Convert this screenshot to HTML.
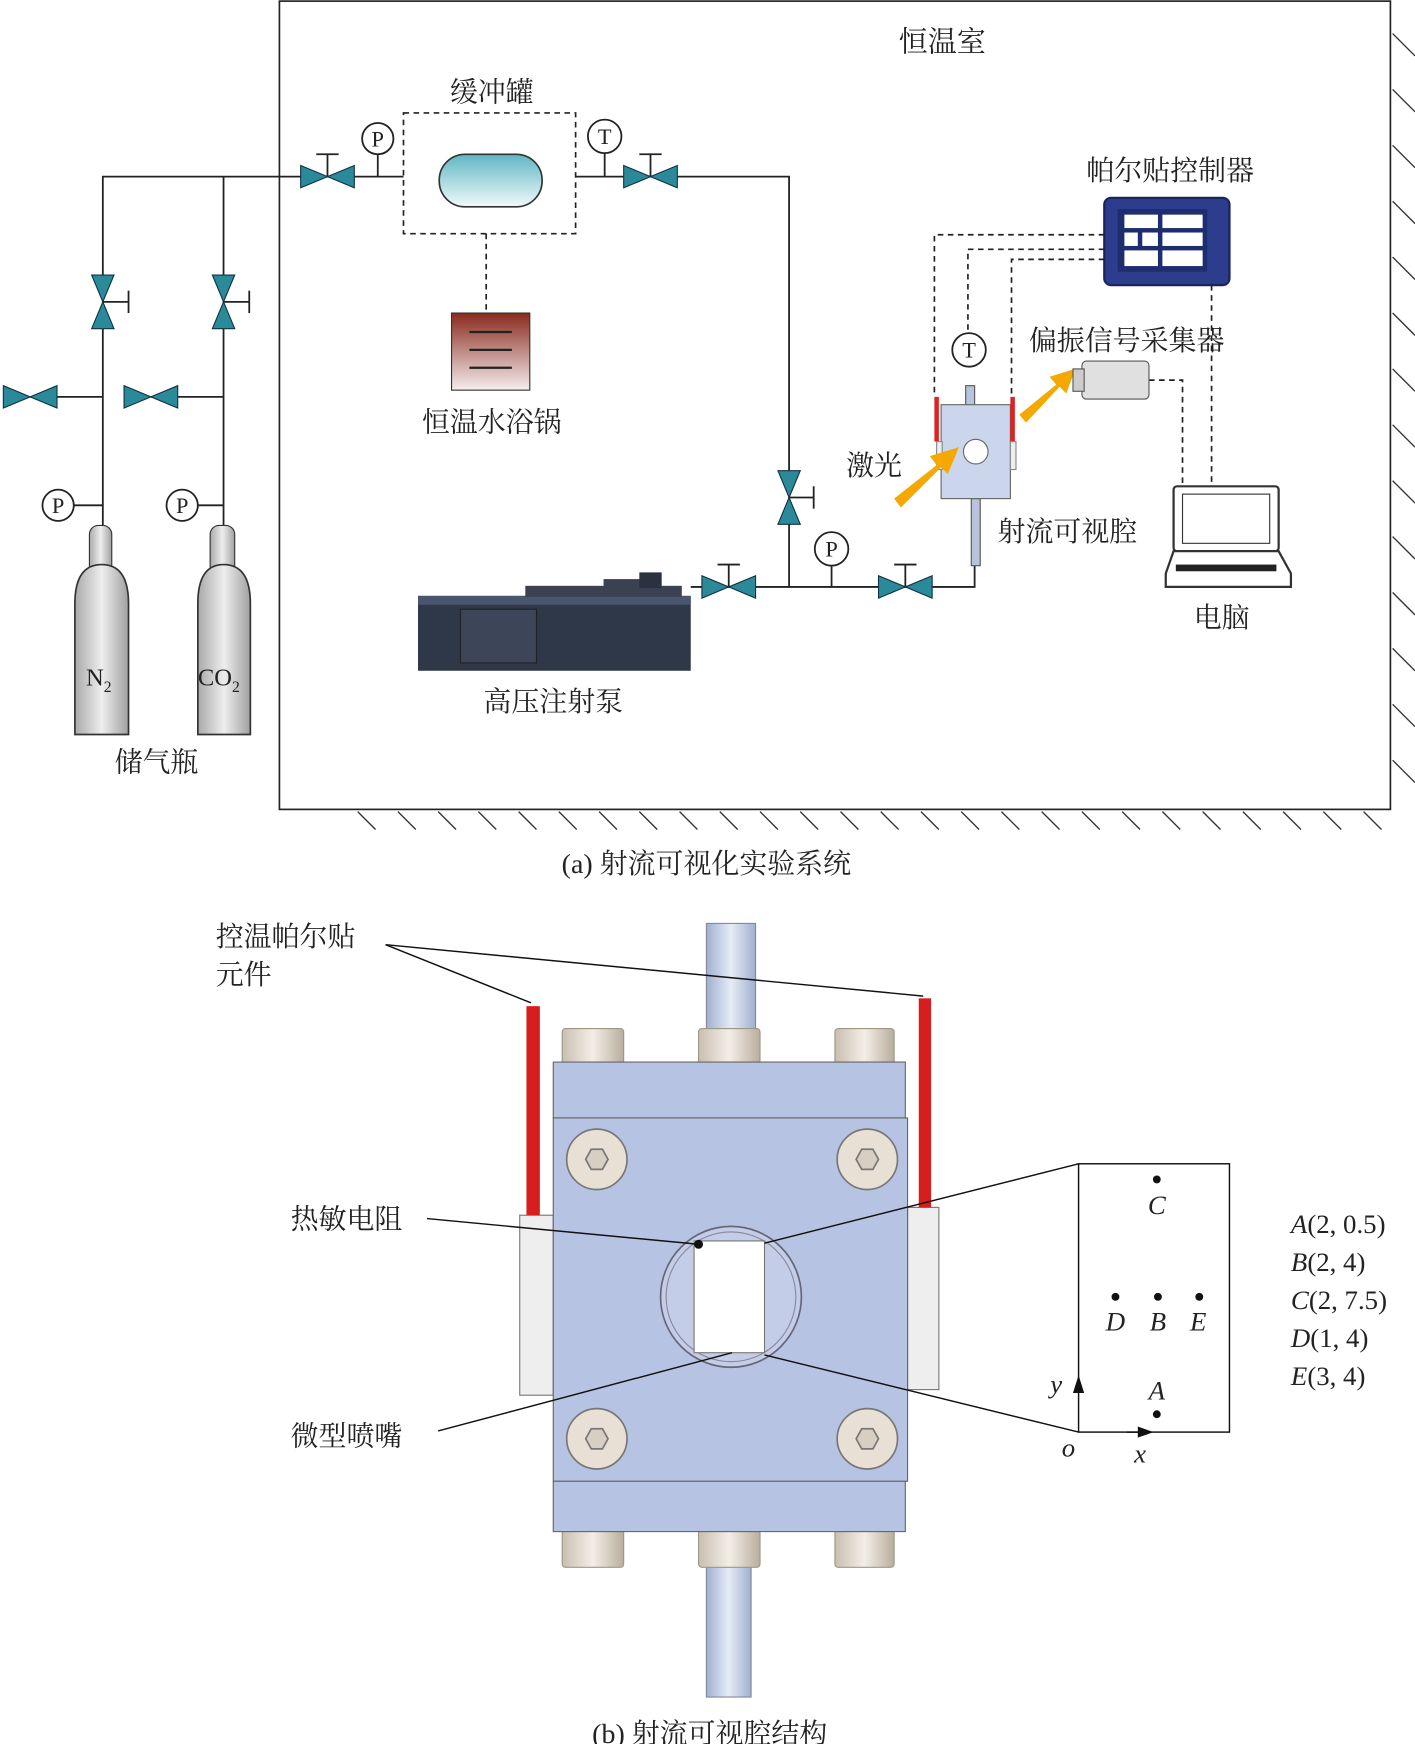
<!DOCTYPE html>
<html><head><meta charset="utf-8"><style>
html,body{margin:0;padding:0;background:#fff}
svg{display:block}
text{font-family:"Liberation Serif","Noto Serif CJK SC",serif;fill:#222}
</style></head><body>
<svg width="1415" height="1744" viewBox="0 0 1266 1560" preserveAspectRatio="none" xmlns="http://www.w3.org/2000/svg">
<defs>
<linearGradient id="tank" x1="0" y1="0" x2="0" y2="1"><stop offset="0" stop-color="#5fb6c3"/><stop offset="1" stop-color="#f0fafb"/></linearGradient>
<linearGradient id="bath" x1="0" y1="0" x2="0" y2="1"><stop offset="0" stop-color="#8a2a1e"/><stop offset="1" stop-color="#f4eeee"/></linearGradient>
<linearGradient id="cyl" x1="0" y1="0" x2="1" y2="0"><stop offset="0" stop-color="#a9a9a9"/><stop offset="0.5" stop-color="#eee"/><stop offset="1" stop-color="#a0a0a0"/></linearGradient>
<linearGradient id="tube" x1="0" y1="0" x2="1" y2="0"><stop offset="0" stop-color="#9fb0cf"/><stop offset="0.5" stop-color="#e6ecf6"/><stop offset="1" stop-color="#9fb0cf"/></linearGradient>
<linearGradient id="bolt" x1="0" y1="0" x2="1" y2="0"><stop offset="0" stop-color="#c9bfb0"/><stop offset="0.5" stop-color="#f3eee6"/><stop offset="1" stop-color="#b9ae9e"/></linearGradient>
<g id="vh"><polygon points="-24,-10 0,0 -24,10" fill="#2a8a9a" stroke="#134" stroke-width="1"/><polygon points="24,-10 0,0 24,10" fill="#2a8a9a" stroke="#134" stroke-width="1"/></g>
<g id="vv"><polygon points="-10,-24 0,0 10,-24" fill="#2a8a9a" stroke="#134" stroke-width="1"/><polygon points="-10,24 0,0 10,24" fill="#2a8a9a" stroke="#134" stroke-width="1"/></g>
</defs>
<g fill="none" stroke="#222" stroke-width="1.5">
<rect x="250" y="1" width="994" height="723"/>
</g>
<!-- hatching -->
<g stroke="#333" stroke-width="1.2">
<line x1="1246" y1="30" x2="1266" y2="50"/><line x1="1246" y1="80" x2="1266" y2="100"/><line x1="1246" y1="130" x2="1266" y2="150"/><line x1="1246" y1="180" x2="1266" y2="200"/><line x1="1246" y1="230" x2="1266" y2="250"/><line x1="1246" y1="280" x2="1266" y2="300"/><line x1="1246" y1="330" x2="1266" y2="350"/><line x1="1246" y1="380" x2="1266" y2="400"/><line x1="1246" y1="430" x2="1266" y2="450"/><line x1="1246" y1="480" x2="1266" y2="500"/><line x1="1246" y1="530" x2="1266" y2="550"/><line x1="1246" y1="580" x2="1266" y2="600"/><line x1="1246" y1="630" x2="1266" y2="650"/><line x1="1246" y1="680" x2="1266" y2="700"/>
</g>
<g stroke="#333" stroke-width="1.2" id="bh"></g>
<script>
var g=document.getElementById('bh');for(var x=320;x<=1230;x+=36){var l=document.createElementNS('http://www.w3.org/2000/svg','line');l.setAttribute('x1',x);l.setAttribute('y1',726);l.setAttribute('x2',x+16);l.setAttribute('y2',742);g.appendChild(l);}
</script>
<text x="843" y="46" font-size="26" text-anchor="middle">恒温室</text>
<!-- pipes -->
<g fill="none" stroke="#222" stroke-width="1.6">
<polyline points="92,470 92,158 361,158"/>
<polyline points="200,470 200,158"/>
<polyline points="515,158 706,158 706,525"/>
<polyline points="618,525 872,525 872,480"/>
<line x1="27" y1="355" x2="92" y2="355"/><line x1="135" y1="355" x2="200" y2="355"/>
<line x1="66" y1="452" x2="92" y2="452"/><line x1="177" y1="452" x2="200" y2="452"/>
<line x1="293" y1="158" x2="293" y2="138"/><line x1="283" y1="138" x2="303" y2="138"/>
<line x1="582" y1="158" x2="582" y2="138"/><line x1="572" y1="138" x2="592" y2="138"/>
<line x1="652" y1="525" x2="652" y2="505"/><line x1="642" y1="505" x2="662" y2="505"/>
<line x1="810" y1="525" x2="810" y2="505"/><line x1="800" y1="505" x2="820" y2="505"/>
<line x1="92" y1="270" x2="115" y2="270"/><line x1="115" y1="260" x2="115" y2="280"/>
<line x1="200" y1="270" x2="223" y2="270"/><line x1="223" y1="260" x2="223" y2="280"/>
<line x1="706" y1="445" x2="728" y2="445"/><line x1="728" y1="435" x2="728" y2="455"/>
<line x1="338" y1="138" x2="338" y2="158"/><line x1="541" y1="137" x2="541" y2="158"/>
<line x1="744" y1="506" x2="744" y2="525"/>
</g>
<use href="#vv" x="92" y="270"/><use href="#vv" x="200" y="270"/>
<use href="#vh" x="27" y="355"/><use href="#vh" x="135" y="355"/>
<use href="#vh" x="293" y="158"/><use href="#vh" x="582" y="158"/>
<use href="#vv" x="706" y="445"/>
<use href="#vh" x="652" y="525"/><use href="#vh" x="810" y="525"/>
<!-- gauges -->
<g fill="#fff" stroke="#222" stroke-width="1.6">
<circle cx="52" cy="452" r="14"/><circle cx="163" cy="452" r="14"/>
<circle cx="338" cy="124" r="14"/><circle cx="541" cy="122" r="15"/>
<circle cx="744" cy="491" r="15"/><circle cx="867" cy="313" r="15"/>
</g>
<g font-size="20" text-anchor="middle">
<text x="52" y="459">P</text><text x="163" y="459">P</text><text x="338" y="131">P</text><text x="541" y="129">T</text><text x="744" y="498">P</text><text x="867" y="320">T</text>
</g>
<!-- cylinders -->
<rect x="80" y="470" width="20" height="45" rx="8" fill="url(#cyl)" stroke="#333"/>
<rect x="188" y="470" width="22" height="45" rx="8" fill="url(#cyl)" stroke="#333"/>
<path d="M67,657 V540 Q67,505 91,505 Q115,505 115,540 V657 Z" fill="url(#cyl)" stroke="#333" stroke-width="1.5"/>
<path d="M177,657 V540 Q177,505 200,505 Q224,505 224,540 V657 Z" fill="url(#cyl)" stroke="#333" stroke-width="1.5"/>
<text x="77" y="613" font-size="22">N<tspan font-size="14" dy="6">2</tspan></text>
<text x="177" y="613" font-size="22">CO<tspan font-size="14" dy="6">2</tspan></text>
<text x="140" y="690" font-size="25" text-anchor="middle">储气瓶</text>
<!-- buffer tank -->
<rect x="361" y="101" width="154" height="108" fill="none" stroke="#222" stroke-width="1.5" stroke-dasharray="5,4"/>
<rect x="393" y="138" width="92" height="47" rx="23" fill="url(#tank)" stroke="#333" stroke-width="1.5"/>
<text x="440" y="91" font-size="25" text-anchor="middle">缓冲罐</text>
<line x1="435" y1="209" x2="435" y2="280" stroke="#222" stroke-width="1.5" stroke-dasharray="5,4"/>
<rect x="404" y="280" width="70" height="69" fill="url(#bath)" stroke="#333"/>
<g stroke="#222" stroke-width="2"><line x1="420" y1="297" x2="458" y2="297"/><line x1="420" y1="313" x2="458" y2="313"/><line x1="420" y1="329" x2="458" y2="329"/></g>
<text x="440" y="386" font-size="25" text-anchor="middle">恒温水浴锅</text>
<!-- pump -->
<rect x="374" y="533" width="244" height="67" fill="#2f3848"/>
<rect x="374" y="533" width="244" height="8" fill="#4a5570"/>
<rect x="412" y="545" width="68" height="48" fill="#3c4658" stroke="#222"/>
<rect x="470" y="524" width="140" height="10" fill="#3a4252"/>
<rect x="540" y="518" width="50" height="8" fill="#3a4252"/>
<rect x="572" y="512" width="20" height="14" fill="#2a3240"/>
<text x="495" y="636" font-size="25" text-anchor="middle">高压注射泵</text>
<!-- controller -->
<text x="1047" y="161" font-size="25" text-anchor="middle">帕尔贴控制器</text>
<rect x="988" y="177" width="112" height="78" rx="6" fill="#2b3d8c" stroke="#1a2560" stroke-width="2"/>
<rect x="1000" y="187" width="80" height="56" fill="#1e2c70"/>
<g fill="#fff"><rect x="1006" y="192" width="30" height="12"/><rect x="1040" y="192" width="36" height="12"/><rect x="1006" y="208" width="12" height="12"/><rect x="1022" y="208" width="14" height="12"/><rect x="1040" y="208" width="36" height="12"/><rect x="1006" y="224" width="30" height="14"/><rect x="1040" y="224" width="36" height="14"/></g>
<g stroke="#222" stroke-width="1.5" stroke-dasharray="5,4" fill="none">
<polyline points="988,210 836,210 836,355"/>
<polyline points="988,223 866,223 866,297"/>
<polyline points="988,232 905,232 905,355"/>
<polyline points="1084,255 1084,435"/>
<polyline points="1028,340 1058,340 1058,435"/>
</g>
<!-- cavity -->
<rect x="864" y="345" width="8" height="20" fill="#b8c4dd" stroke="#555"/>
<rect x="869" y="446" width="8" height="60" fill="#b8c4dd" stroke="#555"/>
<rect x="842" y="362" width="62" height="84" fill="#cbd5ec" stroke="#666"/>
<circle cx="873" cy="404" r="11" fill="#fff" stroke="#666"/>
<rect x="836" y="355" width="4" height="40" fill="#d22"/><rect x="904" y="355" width="4" height="40" fill="#d22"/>
<rect x="838" y="395" width="5" height="25" fill="#eee" stroke="#888"/><rect x="904" y="395" width="5" height="25" fill="#eee" stroke="#888"/>
<text x="955" y="484" font-size="25" text-anchor="middle">射流可视腔</text>
<text x="782" y="425" font-size="25" text-anchor="middle">激光</text>
<!-- arrows -->
<g fill="#f5a800">
<polygon points="800,446 838,416 832,408 858,400 848,424 842,418 806,454"/>
<polygon points="912,371 945,344 939,337 962,330 954,352 948,346 918,378"/>
</g>
<!-- camera -->
<text x="1008" y="313" font-size="25" text-anchor="middle">偏振信号采集器</text>
<rect x="968" y="323" width="60" height="34" rx="4" fill="#e0e0e0" stroke="#555"/>
<rect x="960" y="330" width="10" height="20" fill="#ccc" stroke="#555"/>
<!-- computer -->
<rect x="1050" y="435" width="94" height="58" rx="3" fill="#fff" stroke="#333" stroke-width="2"/>
<rect x="1058" y="442" width="78" height="44" fill="#fff" stroke="#333"/>
<path d="M1050,493 L1043,513 V525 H1155 V513 L1144,493 Z" fill="#fff" stroke="#333" stroke-width="2"/>
<rect x="1052" y="505" width="90" height="6" fill="#222"/>
<text x="1093" y="561" font-size="25" text-anchor="middle">电脑</text>
<text x="632" y="781" font-size="25" text-anchor="middle">(a) 射流可视化实验系统</text>

<!-- part b -->
<rect x="632" y="826" width="44" height="124" fill="url(#tube)" stroke="#889"/>
<rect x="632" y="1395" width="40" height="123" fill="url(#tube)" stroke="#889"/>
<g fill="url(#bolt)" stroke="#998">
<rect x="503" y="920" width="55" height="32" rx="3"/><rect x="625" y="920" width="55" height="32" rx="3"/><rect x="747" y="920" width="53" height="32" rx="3"/>
<rect x="503" y="1368" width="55" height="34" rx="3"/><rect x="625" y="1368" width="55" height="34" rx="3"/><rect x="747" y="1368" width="53" height="34" rx="3"/>
</g>
<rect x="465" y="1087" width="30" height="161" fill="#eee" stroke="#777"/>
<rect x="812" y="1080" width="28" height="163" fill="#eee" stroke="#777"/>
<rect x="495" y="950" width="315" height="50" fill="#b7c3e2" stroke="#666"/>
<rect x="495" y="1000" width="317" height="325" fill="#b7c3e2" stroke="#666"/>
<rect x="495" y="1325" width="315" height="45" fill="#b7c3e2" stroke="#666"/>
<rect x="471" y="900" width="12" height="187" fill="#d61e1e"/>
<rect x="822" y="893" width="11" height="187" fill="#d61e1e"/>
<g stroke="#777" stroke-width="1.5">
<circle cx="534" cy="1037" r="27" fill="#e8e0d4"/><circle cx="776" cy="1037" r="27" fill="#e8e0d4"/>
<circle cx="534" cy="1287" r="27" fill="#e8e0d4"/><circle cx="776" cy="1287" r="27" fill="#e8e0d4"/>
<polygon points="524,1037 529,1028 539,1028 544,1037 539,1046 529,1046" fill="#d7cfc2"/>
<polygon points="766,1037 771,1028 781,1028 786,1037 781,1046 771,1046" fill="#d7cfc2"/>
<polygon points="524,1287 529,1278 539,1278 544,1287 539,1296 529,1296" fill="#d7cfc2"/>
<polygon points="766,1287 771,1278 781,1278 786,1287 781,1296 771,1296" fill="#d7cfc2"/>
</g>
<circle cx="654" cy="1160" r="63" fill="#c3cde8" stroke="#667" stroke-width="1.5"/>
<circle cx="654" cy="1160" r="58" fill="none" stroke="#889"/>
<rect x="621" y="1110" width="63" height="100" fill="#fff" stroke="#777"/>
<circle cx="625" cy="1113" r="4" fill="#111"/>
<g stroke="#111" stroke-width="1.3" fill="none">
<line x1="345" y1="845" x2="475" y2="897"/><line x1="345" y1="845" x2="826" y2="891"/>
<line x1="382" y1="1090" x2="625" y2="1113"/>
<line x1="392" y1="1280" x2="655" y2="1210"/>
<line x1="684" y1="1112" x2="965" y2="1041"/><line x1="684" y1="1212" x2="965" y2="1281"/>
<rect x="965" y="1041" width="135" height="240"/>
</g>
<text x="193" y="846" font-size="25">控温帕尔贴</text>
<text x="193" y="880" font-size="25">元件</text>
<text x="260" y="1099" font-size="25">热敏电阻</text>
<text x="260" y="1293" font-size="25">微型喷嘴</text>
<g fill="#111"><circle cx="1035" cy="1055" r="3.5"/><circle cx="998" cy="1160" r="3.5"/><circle cx="1036" cy="1160" r="3.5"/><circle cx="1073" cy="1160" r="3.5"/><circle cx="1035" cy="1265" r="3.5"/></g>
<g font-size="24" font-style="italic" text-anchor="middle">
<text x="1035" y="1086">C</text><text x="998" y="1190">D</text><text x="1036" y="1190">B</text><text x="1072" y="1190">E</text><text x="1035" y="1252">A</text>
<text x="945" y="1246">y</text><text x="956" y="1303">o</text><text x="1020" y="1308">x</text>
</g>
<polygon points="965,1230 960,1246 970,1246" fill="#111"/>
<line x1="1008" y1="1281" x2="1026" y2="1281" stroke="#111" stroke-width="1.3"/>
<polygon points="1032,1281 1018,1276 1018,1286" fill="#111"/>
<g font-size="24">
<text x="1155" y="1103"><tspan font-style="italic">A</tspan>(2, 0.5)</text>
<text x="1155" y="1137"><tspan font-style="italic">B</tspan>(2, 4)</text>
<text x="1155" y="1171"><tspan font-style="italic">C</tspan>(2, 7.5)</text>
<text x="1155" y="1205"><tspan font-style="italic">D</tspan>(1, 4)</text>
<text x="1155" y="1239"><tspan font-style="italic">E</tspan>(3, 4)</text>
</g>
<text x="635" y="1559" font-size="25" text-anchor="middle">(b) 射流可视腔结构</text>
</svg>
</body></html>
